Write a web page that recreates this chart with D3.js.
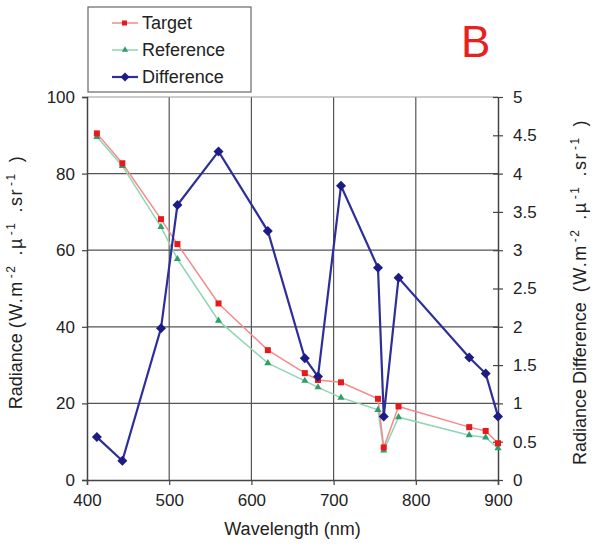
<!DOCTYPE html>
<html><head><meta charset="utf-8">
<script src="https://cdn.jsdelivr.net/npm/d3@7"></script>
<style>body{margin:0;background:#fff}text{font-family:"Liberation Sans",Arial,sans-serif}</style>
</head><body><svg id="c" width="595" height="545"></svg>
<script>
const wavelengths=[412,443,490,510,560,620,665,681,709,754,761,779,865,885,900];
const target=[90.5,82.7,68.1,61.6,46.1,33.9,27.9,26.1,25.5,21.2,8.5,19.2,13.8,12.8,9.6];
const reference=[89.6,82.0,66.1,57.7,41.6,30.5,25.9,24.2,21.5,18.3,7.7,16.4,11.7,11.1,8.3];
const difference=[0.56,0.25,1.98,3.59,4.29,3.25,1.59,1.35,3.84,2.77,0.83,2.64,1.60,1.39,0.83];
const xTicks=[400,500,600,700,800,900];
const yTicks=[0,20,40,60,80,100];
const y2Ticks=[0,0.5,1,1.5,2,2.5,3,3.5,4,4.5,5];

const svg=d3.select("#c");
const L=87,R=498,T=97,B=480;
const x=d3.scaleLinear().domain([400,900]).range([L,R]);
const y=d3.scaleLinear().domain([0,100]).range([B,T]);
const y2=d3.scaleLinear().domain([0,5]).range([B,T]);

// grid
svg.append("g").selectAll("line").data(xTicks.slice(1,-1)).join("line")
 .attr("x1",d=>x(d)).attr("x2",d=>x(d)).attr("y1",T).attr("y2",B).attr("stroke","#555").attr("stroke-width",1.2);
svg.append("g").selectAll("line").data(yTicks.slice(1)).join("line")
 .attr("x1",L).attr("x2",R).attr("y1",d=>y(d)).attr("y2",d=>y(d)).attr("stroke",(d)=>d===100?"#999":"#555").attr("stroke-width",1.2);

// axes
const ax=svg.append("g").attr("transform",`translate(0,${B})`).call(d3.axisBottom(x).tickValues(xTicks).tickSize(5).tickPadding(9).tickFormat(d3.format("d")));
const ay=svg.append("g").attr("transform",`translate(${L},0)`).call(d3.axisLeft(y).tickValues(yTicks).tickSize(5).tickPadding(7));
const ay2=svg.append("g").attr("transform",`translate(${R},0)`).call(d3.axisRight(y2).tickValues(y2Ticks).tickSizeInner(5).tickSizeOuter(0).tickPadding(10).tickFormat(d=>String(d)));
ay2.selectAll(".tick line").attr("x1",-5);
[ax,ay,ay2].forEach(g=>{g.selectAll("path").attr("stroke","#444").attr("stroke-width",1.5);
 g.selectAll(".tick line").attr("stroke","#444").attr("stroke-width",1.2);
 g.selectAll("text").attr("font-size",17).attr("fill","#222").attr("font-family","Liberation Sans, Arial, sans-serif");});

// lines
const pts=(arr,sc)=>arr.map((v,i)=>[x(wavelengths[i]),sc(v)]);
const line=d3.line();
svg.append("path").attr("d",line(pts(reference,y))).attr("fill","none").attr("stroke","#8fd6b2").attr("stroke-width",1.5);
svg.append("path").attr("d",line(pts(target,y))).attr("fill","none").attr("stroke","#f58a8a").attr("stroke-width",1.5);
svg.append("g").selectAll("path").data(pts(reference,y)).join("path")
 .attr("transform",d=>`translate(${d[0]},${d[1]})`).attr("d",d3.symbol(d3.symbolTriangle,22)()).attr("fill","#2e9e6a");
svg.append("g").selectAll("rect").data(pts(target,y)).join("rect")
 .attr("x",d=>d[0]-3).attr("y",d=>d[1]-3).attr("width",6).attr("height",6).attr("fill","#e8191a");
svg.append("path").attr("d",line(pts(difference,y2))).attr("fill","none").attr("stroke","#2e2e9a").attr("stroke-width",2.2);
svg.append("g").selectAll("path").data(pts(difference,y2)).join("path")
 .attr("transform",d=>`translate(${d[0]},${d[1]}) rotate(45)`).attr("d",d3.symbol(d3.symbolSquare,50)()).attr("fill","#1c1c84");

// legend
const lg=svg.append("g");
lg.append("rect").attr("x",88).attr("y",7).attr("width",163).attr("height",85).attr("fill","#fff").attr("stroke","#666").attr("stroke-width",1.2);
const leg=[{n:"Target",c:"#f58a8a",m:"#e8191a",s:"sq"},{n:"Reference",c:"#8fd6b2",m:"#2e9e6a",s:"tri"},{n:"Difference",c:"#2e2e9a",m:"#1c1c84",s:"dia"}];
leg.forEach((e,i)=>{const yy=23+i*27;
 lg.append("line").attr("x1",112).attr("x2",138).attr("y1",yy).attr("y2",yy).attr("stroke",e.c).attr("stroke-width",e.s==="dia"?2.2:1.5);
 if(e.s==="sq") lg.append("rect").attr("x",122).attr("y",yy-2.5).attr("width",5).attr("height",5).attr("fill",e.m);
 else if(e.s==="tri") lg.append("path").attr("transform",`translate(125,${yy})`).attr("d",d3.symbol(d3.symbolTriangle,18)()).attr("fill",e.m);
 else lg.append("path").attr("transform",`translate(125,${yy}) rotate(45)`).attr("d",d3.symbol(d3.symbolSquare,40)()).attr("fill",e.m);
 lg.append("text").attr("x",142).attr("y",yy+6).attr("font-size",18).attr("fill","#222").text(e.n);
});

// B label
svg.append("text").attr("x",461).attr("y",57).attr("font-size",44).attr("fill","#e82020").text("B");

// axis titles
svg.append("text").attr("x",(L+R)/2).attr("y",535).attr("text-anchor","middle").attr("font-size",18).attr("fill","#222").text("Wavelength (nm)");
function unitTitle(g,prefix){
 const t=g.append("text").attr("text-anchor","middle").attr("font-size",18).attr("fill","#222");
 t.append("tspan").text(prefix);
 const u=(s,dx,dy,sup)=>t.append("tspan").attr("dx",dx).attr("dy",dy).attr("font-size",sup?12:18).attr("letter-spacing",1.5).text(s);
 u("(W.m",5,0,false);
 u("-2",2,-7,true);
 u(".µ",9,7,false);
 u("-1",2,-7,true);
 u(".sr",9,7,false);
 u("-1",2,-7,true);
 u(")",10,7,false);
 return t;
}
unitTitle(svg.append("g").attr("transform","translate(22,282) rotate(-90)"),"Radiance");
unitTitle(svg.append("g").attr("transform","translate(586,292) rotate(-90)"),"Radiance Difference ");
</script></body></html>
